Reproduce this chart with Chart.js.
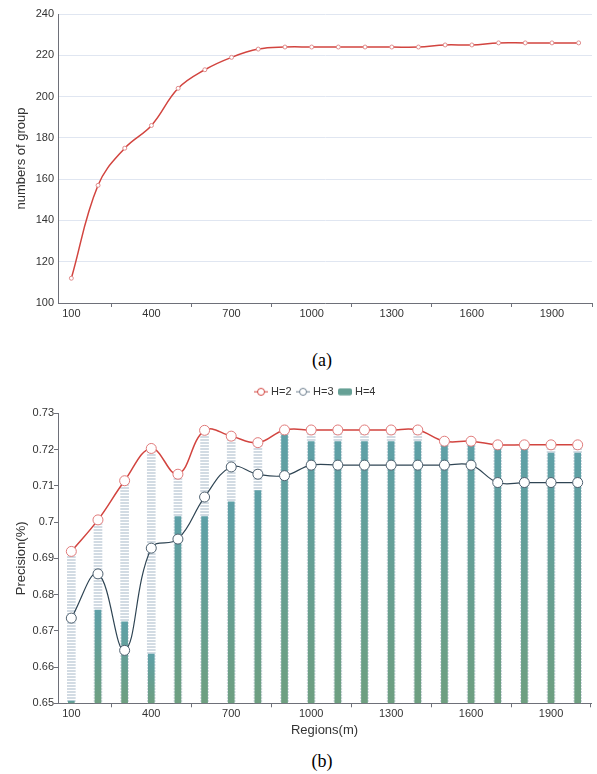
<!DOCTYPE html>
<html>
<head>
<meta charset="utf-8">
<script src="https://cdn.jsdelivr.net/npm/chart.js@4/dist/chart.umd.min.js"></script>
<style>
  html, body { margin: 0; padding: 0; background: #fff; }
  body { width: 597px; height: 774px; position: relative; overflow: hidden; }
  canvas { position: absolute; left: 0; }
  #groups { top: 0; }
  #precision { top: 370px; }
  .cap { position: absolute; left: 272px; width: 100px; text-align: center;
         font-family: "Liberation Serif", "Times New Roman", serif; font-size: 18px;
         line-height: 20px; color: #000; }
</style>
</head>
<body>
<canvas id="groups" width="597" height="330"></canvas>
<div class="cap" style="top:350px">(a)</div>
<canvas id="precision" width="597" height="380"></canvas>
<div class="cap" style="top:751px">(b)</div>

<script>
// Region sizes (m) along the x axis
const regions = ['100','200','300','400','500','600','700','800','900','1000',
                 '1100','1200','1300','1400','1500','1600','1700','1800','1900','2000'];
const shownRegionLabels = ['100','400','700','1000','1300','1600','1900'];

// (a) number of groups per region size
const groupCounts = [112, 157, 175, 186, 204, 213, 219, 223, 224, 224,
                     224, 224, 224, 224, 225, 225, 226, 226, 226, 226];
const groupTicks = [100, 120, 140, 160, 180, 200, 220, 240];

// (b) precision for H = 2, 3, 4
const precisionH2 = [0.6919, 0.7006, 0.7114, 0.7203, 0.7132, 0.7253, 0.7237, 0.7219, 0.7254, 0.7254,
                     0.7254, 0.7254, 0.7254, 0.7254, 0.7223, 0.7223, 0.7213, 0.7213, 0.7213, 0.7213];
const precisionH3 = [0.6735, 0.6857, 0.6646, 0.6928, 0.6953, 0.7069, 0.7152, 0.7132, 0.7128, 0.7157,
                     0.7157, 0.7157, 0.7157, 0.7157, 0.7157, 0.7157, 0.7109, 0.7109, 0.7109, 0.7109];
const precisionH4 = [0.6506, 0.6757, 0.6725, 0.6636, 0.7015, 0.7015, 0.7056, 0.7087, 0.7240, 0.7222,
                     0.7222, 0.7222, 0.7222, 0.7222, 0.7215, 0.7215, 0.7203, 0.7203, 0.7190, 0.7190];
const precisionTicks = [0.65, 0.66, 0.67, 0.68, 0.69, 0.70, 0.71, 0.72, 0.73];

// styling
const FONT = '"Liberation Sans", Arial, sans-serif';
const AXIS = '#6e7079';
const LABEL = '#333';
const GRID = '#e0e6f1';
const RED = '#d2443f';
const SLATE = '#2f4554';
const H4_TOP = '#5ea0a7';
const H4_BOTTOM = '#6e9f80';
const STRIPE = '#d2dbe3';

Chart.defaults.font.family = FONT;
Chart.defaults.color = LABEL;

// show a tick mark on every third category boundary (and the closing one)
const boundaryTick = ctx => (ctx.index === undefined || ctx.index % 3 === 2) ? AXIS : 'rgba(0,0,0,0)';
const regionLabel = (v, i) => shownRegionLabels.includes(regions[i]) ? regions[i] : '';

function regionAxis(extra) {
  return Object.assign({
    type: 'category',
    offset: true,
    grid: { offset: true, drawOnChartArea: false, drawTicks: true, tickLength: 4,
            color: AXIS, tickColor: boundaryTick },
    border: { display: true, color: AXIS, width: 1 },
    ticks: { autoSkip: false, maxRotation: 0, padding: 0, color: LABEL,
             font: { size: 11 }, callback: regionLabel }
  }, extra);
}

// ---------- (a) numbers of group ----------
new Chart(document.getElementById('groups'), {
  type: 'line',
  data: {
    labels: regions,
    datasets: [{
      label: 'groups',
      data: groupCounts,
      borderColor: RED,
      borderWidth: 1.5,
      tension: 0.4,
      fill: false,
      pointRadius: 2,
      pointBackgroundColor: '#fff',
      pointBorderColor: '#e08c8c',
      pointBorderWidth: 1
    }]
  },
  options: {
    responsive: false,
    animation: false,
    events: [],
    layout: { padding: { top: 14, right: 3, left: 0, bottom: 0 } },
    plugins: { legend: { display: false }, tooltip: { enabled: false } },
    scales: {
      x: regionAxis({ afterFit: s => { s.height = 27; } }),
      y: {
        min: groupTicks[0],
        max: groupTicks[groupTicks.length - 1],
        afterBuildTicks: s => { s.ticks = groupTicks.map(v => ({ value: v })); },
        grid: { color: GRID, drawTicks: false },
        border: { display: true, color: AXIS, width: 1 },
        ticks: { padding: 4, color: LABEL, font: { size: 11 } },
        title: { display: true, text: 'numbers of group', color: LABEL,
                 font: { size: 13 }, padding: { top: 14, bottom: 0 } },
        afterFit: s => { s.width = 58; }
      }
    }
  }
});

// ---------- (b) precision ----------
function stripePattern() {
  const c = document.createElement('canvas');
  c.width = 4; c.height = 3;
  const g = c.getContext('2d');
  g.fillStyle = '#fff'; g.fillRect(0, 0, 4, 3);
  g.fillStyle = STRIPE; g.fillRect(0, 0, 4, 2);
  return g.createPattern(c, 'repeat');
}

function h4Fill(ctx) {
  const chart = ctx.chart, area = chart.chartArea;
  if (!area || ctx.type !== 'data') return H4_TOP;
  const top = chart.scales.y.getPixelForValue(ctx.raw);
  const g = chart.ctx.createLinearGradient(0, top, 0, area.bottom);
  g.addColorStop(0, H4_TOP);
  g.addColorStop(1, H4_BOTTOM);
  return g;
}

function lineIcon(color) {
  const c = document.createElement('canvas');
  c.width = 14; c.height = 10;
  const g = c.getContext('2d');
  g.strokeStyle = color; g.lineWidth = 1;
  g.beginPath(); g.moveTo(0, 5); g.lineTo(14, 5); g.stroke();
  g.beginPath(); g.arc(7, 5, 3.5, 0, Math.PI * 2);
  g.fillStyle = '#fff'; g.fill(); g.stroke();
  return c;
}

function barIcon(color) {
  const c = document.createElement('canvas');
  c.width = 14; c.height = 8;
  const g = c.getContext('2d');
  g.fillStyle = color;
  g.beginPath(); g.roundRect(0, 0.5, 14, 7, 2); g.fill();
  return c;
}

const legendNudge = {
  id: 'legendNudge',
  afterLayout(chart) {
    const l = chart.legend;
    if (!l) return;
    l.left += 19; l.right += 19;
    l.top -= 6; l.bottom -= 6;
  }
};

new Chart(document.getElementById('precision'), {
  data: {
    labels: regions,
    datasets: [
      { type: 'line', label: 'H=2', data: precisionH2, order: 0,
        borderColor: RED, borderWidth: 1.5, tension: 0.4, fill: false,
        pointRadius: 5, pointBackgroundColor: '#fff', pointBorderColor: '#e07a7a', pointBorderWidth: 1 },
      { type: 'line', label: 'H=3', data: precisionH3, order: 1,
        borderColor: SLATE, borderWidth: 1.2, tension: 0.4, fill: false,
        pointRadius: 5, pointBackgroundColor: '#fff', pointBorderColor: '#4f6170', pointBorderWidth: 1 },
      { type: 'bar', label: 'H=4', data: precisionH4, order: 2,
        backgroundColor: h4Fill, borderWidth: 0, barThickness: 6, grouped: false,
        base: precisionTicks[0] },
      { type: 'bar', label: 'H=2 span', data: precisionH2, order: 3,
        backgroundColor: stripePattern(), borderWidth: 0, barThickness: 8, grouped: false,
        base: precisionTicks[0] }
    ]
  },
  options: {
    responsive: false,
    animation: false,
    events: [],
    layout: { padding: { top: 15.3, right: 3, left: 0, bottom: 0 } },
    plugins: {
      tooltip: { enabled: false },
      legend: {
        display: true,
        position: 'top',
        labels: {
          usePointStyle: true,
          pointStyleWidth: 9,
          padding: 7,
          color: LABEL,
          font: { size: 11 },
          generateLabels: () => [
            { text: 'H=2', pointStyle: lineIcon(RED), fillStyle: RED, strokeStyle: RED, lineWidth: 0, hidden: false, datasetIndex: 0, fontColor: LABEL },
            { text: 'H=3', pointStyle: lineIcon('#6f8090'), fillStyle: SLATE, strokeStyle: SLATE, lineWidth: 0, hidden: false, datasetIndex: 1, fontColor: LABEL },
            { text: 'H=4', pointStyle: barIcon('#66a095'), fillStyle: H4_TOP, strokeStyle: H4_TOP, lineWidth: 0, hidden: false, datasetIndex: 2, fontColor: LABEL }
          ]
        }
      }
    },
    scales: {
      x: regionAxis({
        title: { display: true, text: 'Regions(m)', color: LABEL, font: { size: 13 },
                 padding: { top: 0, bottom: 11.5 } },
        afterFit: s => { s.height = 46.7; }
      }),
      y: {
        min: precisionTicks[0],
        max: precisionTicks[precisionTicks.length - 1],
        afterBuildTicks: s => { s.ticks = precisionTicks.map(v => ({ value: v })); },
        grid: { drawOnChartArea: false, drawTicks: true, tickLength: 4, color: AXIS },
        border: { display: true, color: AXIS, width: 1 },
        ticks: { padding: 0, color: LABEL, font: { size: 11 },
                 callback: v => String(parseFloat(Number(v).toFixed(2))) },
        title: { display: true, text: 'Precision(%)', color: LABEL,
                 font: { size: 13 }, padding: { top: 14, bottom: 0 } },
        afterFit: s => { s.width = 58; }
      }
    }
  },
  plugins: [legendNudge]
});
</script>
</body>
</html>
